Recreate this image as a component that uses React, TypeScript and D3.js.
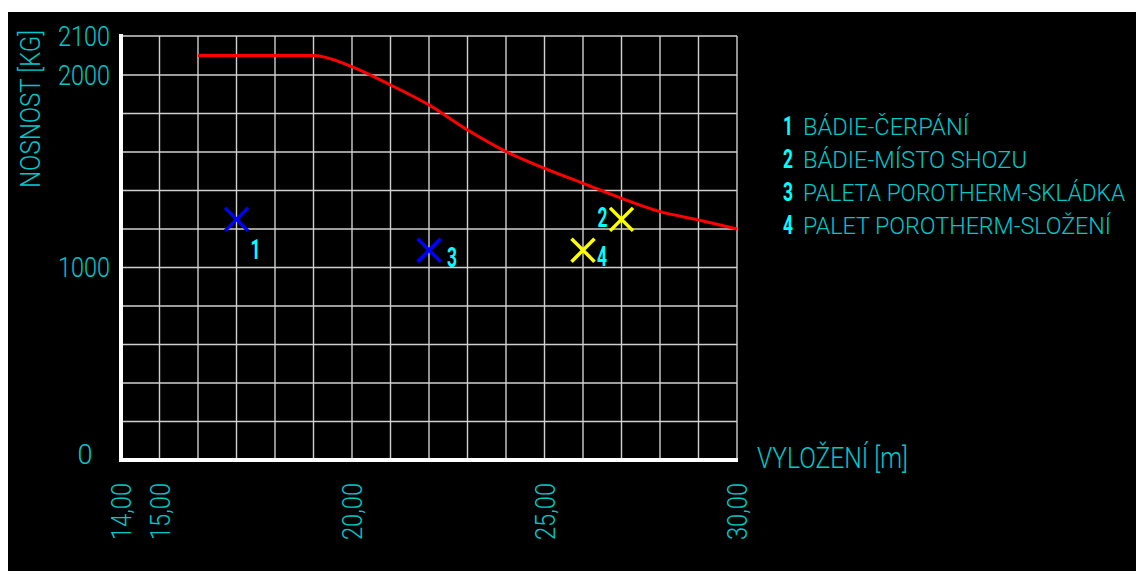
import React from "react";
import * as d3 from "d3";

const xTicks = [14, 15, 20, 25, 30];
const xTickLabels = ["14,00", "15,00", "20,00", "25,00", "30,00"];
const xGrid = [14, 15, 16, 17, 18, 19, 20, 21, 22, 23, 24, 25, 26, 27, 28, 29, 30];
const yGrid = [0, 200, 400, 600, 800, 1000, 1200, 1400, 1600, 1800, 2000, 2100];
const yTicks = [2100, 2000, 1000, 0];

const curveX = [16, 17, 18, 19, 20, 21, 22, 23, 24, 25, 26, 27, 28, 29, 30];
const curveY = [2050, 2050, 2050, 2050, 2021, 1948, 1844, 1714, 1602, 1515, 1437, 1359, 1290, 1247, 1200];

const markerIds = ["1", "2", "3", "4"];
const markerX = [17, 27, 22, 26];
const markerY = [1250, 1250, 1090, 1090];
const markerGroup = ["blue", "yellow", "blue", "yellow"];

const legendNums = ["1", "2", "3", "4"];
const legendTexts = [
  "BÁDIE-ČERPÁNÍ",
  "BÁDIE-MÍSTO SHOZU",
  "PALETA POROTHERM-SKLÁDKA",
  "PALET POROTHERM-SLOŽENÍ",
];

const yTitle = "NOSNOST [KG]";
const xTitle = "VYLOŽENÍ [m]";

// styles / layout
const W = 1136;
const H = 571;
const TEXT = "#00c8c8";
const BRIGHT = "#00ffff";
const FONT = "Roboto, 'DejaVu Sans', sans-serif";
const markerColor: Record<string, string> = { blue: "#0000ff", yellow: "#ffff00" };
const labelOffset: Record<string, [number, number]> = {
  "1": [14, 40],
  "2": [-24, 8],
  "3": [18, 17],
  "4": [14, 16],
};
const legendLen = [166, 224, 322, 308];

export default function App() {
  const x = d3.scaleLinear().domain([14, 30]).range([121, 737]);
  const y = d3.scaleLinear().domain([0, 2000, 2100]).range([460, 75, 36]);

  const line = d3
    .line<number>()
    .x((_, i) => x(curveX[i]))
    .y((d) => y(d))
    .curve(d3.curveMonotoneX);

  const xs = 11.5;

  return (
    <svg
      width={W}
      height={H}
      style={{ position: "absolute", left: 0, top: 0, display: "block" }}
    >
      <rect x={0} y={0} width={W} height={H} fill="#ffffff" />
      <rect x={8} y={12} width={W - 8} height={H - 12} fill="#000000" />

      {/* grid */}
      <g stroke="#d0d0d0" strokeWidth={1.4}>
        {xGrid.map((v) => (
          <line key={"vx" + v} x1={x(v)} x2={x(v)} y1={y(2100)} y2={y(0)} />
        ))}
        {yGrid.map((v) => (
          <line key={"hy" + v} x1={x(14)} x2={x(30)} y1={y(v)} y2={y(v)} />
        ))}
      </g>

      {/* axes */}
      <g stroke="#ffffff" strokeWidth={4}>
        <line x1={x(14)} x2={x(14)} y1={y(2100) - 2} y2={y(0) + 2} />
        <line x1={x(14) - 2} x2={x(30) + 1} y1={y(0)} y2={y(0)} />
      </g>

      {/* red curve */}
      <path d={line(curveY) || ""} fill="none" stroke="#ff0000" strokeWidth={3} />

      {/* markers */}
      {markerIds.map((id, i) => {
        const cx = x(markerX[i]);
        const cy = y(markerY[i]);
        const c = markerColor[markerGroup[i]];
        const [dx, dy] = labelOffset[id];
        return (
          <g key={"m" + id}>
            <line x1={cx - xs} y1={cy - xs} x2={cx + xs} y2={cy + xs} stroke={c} strokeWidth={3.5} />
            <line x1={cx - xs} y1={cy + xs} x2={cx + xs} y2={cy - xs} stroke={c} strokeWidth={3.5} />
            <text
              x={cx + dx}
              y={cy + dy}
              fill={BRIGHT}
              fontFamily={FONT}
              fontWeight={700}
              fontSize={27}
              textLength={10}
              lengthAdjust="spacingAndGlyphs"
            >
              {id}
            </text>
          </g>
        );
      })}

      {/* y tick labels */}
      {yTicks.map((v) =>
        v === 0 ? (
          <text
            key={"yt" + v}
            x={85}
            y={y(v) + 4}
            fill={TEXT}
            fontFamily={FONT}
            fontWeight={300}
            fontSize={27}
            textAnchor="middle"
          >
            0
          </text>
        ) : (
          <text
            key={"yt" + v}
            x={110}
            y={y(v) + 9.5}
            fill={TEXT}
            fontFamily={FONT}
            fontWeight={300}
            fontSize={27}
            textAnchor="end"
            textLength={52}
            lengthAdjust="spacingAndGlyphs"
          >
            {String(v)}
          </text>
        )
      )}

      {/* x tick labels */}
      {xTicks.map((v, i) => (
        <text
          key={"xt" + v}
          transform={`translate(${x(v) + 10},483) rotate(-90)`}
          fill={TEXT}
          fontFamily={FONT}
          fontWeight={300}
          fontSize={28}
          textAnchor="end"
          textLength={57}
          lengthAdjust="spacingAndGlyphs"
        >
          {xTickLabels[i]}
        </text>
      ))}

      {/* axis titles */}
      <text
        transform="translate(40,109) rotate(-90)"
        fill={TEXT}
        fontFamily={FONT}
        fontWeight={300}
        fontSize={28}
        textAnchor="middle"
        textLength={158}
        lengthAdjust="spacingAndGlyphs"
      >
        {yTitle}
      </text>
      <text
        x={757}
        y={468}
        fill={TEXT}
        fontFamily={FONT}
        fontWeight={300}
        fontSize={29}
        textLength={151}
        lengthAdjust="spacingAndGlyphs"
      >
        {xTitle}
      </text>

      {/* legend */}
      {legendNums.map((n, i) => (
        <g key={"lg" + n}>
          <text
            x={783}
            y={135 + i * 33}
            fill={BRIGHT}
            fontFamily={FONT}
            fontWeight={700}
            fontSize={25}
            textLength={10}
            lengthAdjust="spacingAndGlyphs"
          >
            {n}
          </text>
          <text
            x={803}
            y={135 + i * 33}
            fill={TEXT}
            fontFamily={FONT}
            fontWeight={300}
            fontSize={23}
            textLength={legendLen[i]}
            lengthAdjust="spacingAndGlyphs"
          >
            {legendTexts[i]}
          </text>
        </g>
      ))}
    </svg>
  );
}
